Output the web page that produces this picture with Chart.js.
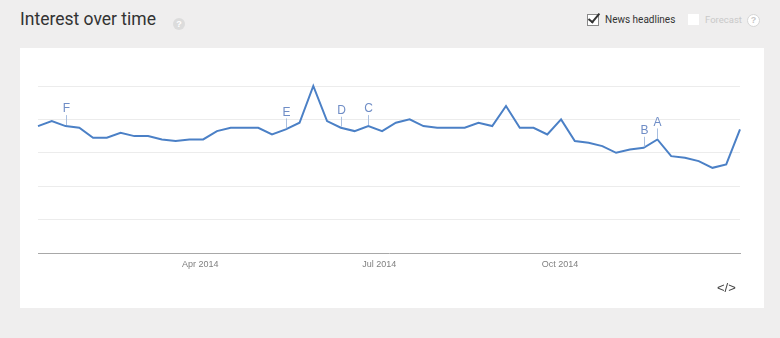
<!DOCTYPE html>
<html>
<head>
<meta charset="utf-8">
<script src="https://cdn.jsdelivr.net/npm/chart.js@4/dist/chart.umd.min.js"></script>
<style>
  html, body { margin: 0; padding: 0; }
  body { width: 780px; height: 338px; background: #efeeee; position: relative; overflow: hidden; font-family: Roboto, Arial, sans-serif; }
  #title { position: absolute; left: 20px; top: 9px; font-size: 17.5px; color: #333; font-family: Roboto, Arial, sans-serif; }
  .help { position: absolute; width: 12px; height: 12px; border-radius: 50%; background: #dcdcdc; color: #fff; font: bold 9px Arial, sans-serif; text-align: center; line-height: 12px; }
  #chk { position: absolute; left: 587px; top: 14px; width: 10px; height: 10px; border: 1px solid #8a8a8a; background: #fff; }
  #chk:after { content: ""; position: absolute; left: 3px; top: -4px; width: 4px; height: 10px; border-right: 2px solid #333; border-bottom: 2px solid #333; transform: rotate(40deg); }
  #news { position: absolute; left: 605px; top: 14px; font: 10px Roboto, Arial, sans-serif; color: #333; }
  #fbox { position: absolute; left: 688px; top: 14px; width: 11px; height: 11px; background: #fff; }
  #fc { position: absolute; left: 705px; top: 14px; font: 9.5px Roboto, Arial, sans-serif; color: #c9c9c9; }
  #card { position: absolute; left: 20px; top: 48px; width: 744px; height: 260px; background: #fff; }
  #code { position: absolute; left: 717px; top: 280px; font: 13px Arial, sans-serif; color: #444; letter-spacing: 0px; }
</style>
</head>
<body>
<div id="title">Interest over time</div>
<div class="help" style="left:173px;top:18px;">?</div>
<div id="chk"></div>
<div id="news">News headlines</div>
<div id="fbox"></div>
<div id="fc">Forecast</div>
<div class="help" style="left:747px;top:14px;background:#fff;border:1px solid #d6d6d6;color:#c6c6c6;width:11px;height:11px;line-height:11px;">?</div>
<div id="card"><canvas id="c" width="744" height="260"></canvas></div>
<div id="code">&lt;/&gt;</div>
<script>
// ---- data ----
const firstWeek = "2014-01-05"; // weekly categories (week start, Sunday)
const weekCount = 52;
const interest = [76,79,76,75,69,69,72,70,70,68,67,68,68,73,75,75,75,71,74,78,100,79,75,73,76,73,78,80,76,75,75,75,78,76,88,75,75,71,80,67,66,64,60,62,63,68,58,57,55,51,53,74];
const annotationLabels = ["F","E","D","C","B","A"];
const annotationWeeks = [2,18,22,24,44,45];
const tickLabels = ["Apr 2014","Jul 2014","Oct 2014"];
const tickDates = ["2014-04-01","2014-07-01","2014-10-01"];

// ---- build ----
const DAY = 86400000;
const y0 = Date.UTC(2014,0,1);
function dayNum(s){ const p=s.split('-').map(Number); return (Date.UTC(p[0],p[1]-1,p[2]) - y0)/DAY; }
const weeks = [];
for (let i=0;i<weekCount;i++){ weeks.push(dayNum(firstWeek) + 7*i); }
const points = weeks.map((w,i)=>({x: w + 3.5, y: interest[i]}));
const tickVals = tickDates.map(dayNum);

const markerPlugin = {
  id: 'markers',
  afterDatasetsDraw(chart){
    const meta = chart.getDatasetMeta(0);
    const ctx = chart.ctx;
    ctx.save();
    annotationWeeks.forEach((wi,k)=>{
      const el = meta.data[wi];
      const x = Math.round(el.x)+0.5, y = el.y;
      ctx.strokeStyle = '#a9bfe0';
      ctx.lineWidth = 1;
      ctx.beginPath(); ctx.moveTo(x, y-1); ctx.lineTo(x, y-11); ctx.stroke();
      ctx.fillStyle = '#6f8dc6';
      ctx.font = '12px Arial, sans-serif';
      ctx.textAlign = 'center';
      ctx.textBaseline = 'bottom';
      ctx.fillText(annotationLabels[k], x, y-11);
    });
    ctx.restore();
  }
};

new Chart(document.getElementById('c'), {
  type: 'line',
  data: { datasets: [{ data: points, borderColor: '#4b80c6', borderWidth: 2, pointRadius: 0, tension: 0, fill: false, clip: false }] },
  options: {
    responsive: false, animation: false,
    layout: { padding: { left: 18, right: 24, top: 38, bottom: 35 } },
    plugins: { legend: { display: false }, tooltip: { enabled: false } },
    scales: {
      x: {
        type: 'linear', min: points[0].x, max: points[points.length-1].x,
        grid: { display: false, drawTicks: false },
        border: { display: true, color: '#a8a8a8', width: 1 },
        afterBuildTicks: s => { s.ticks = tickVals.map(v=>({value:v})); },
        afterFit: s => { s.height = 20; },
        ticks: { padding: 6, color: '#808080', font: { family: 'Liberation Sans, Arial', size: 9 }, maxRotation: 0, autoSkip: false,
          callback: (v) => { const i = tickVals.indexOf(v); return i>=0 ? tickLabels[i] : ''; } }
      },
      y: {
        min: 0, max: 100,
        ticks: { display: false, stepSize: 20 },
        grid: { drawTicks: false, color: c => c.tick.value === 0 ? 'rgba(0,0,0,0)' : '#ececec' },
        border: { display: false },
        afterFit: s => { s.width = 0; }
      }
    }
  },
  plugins: [markerPlugin]
});
</script>
</body>
</html>
